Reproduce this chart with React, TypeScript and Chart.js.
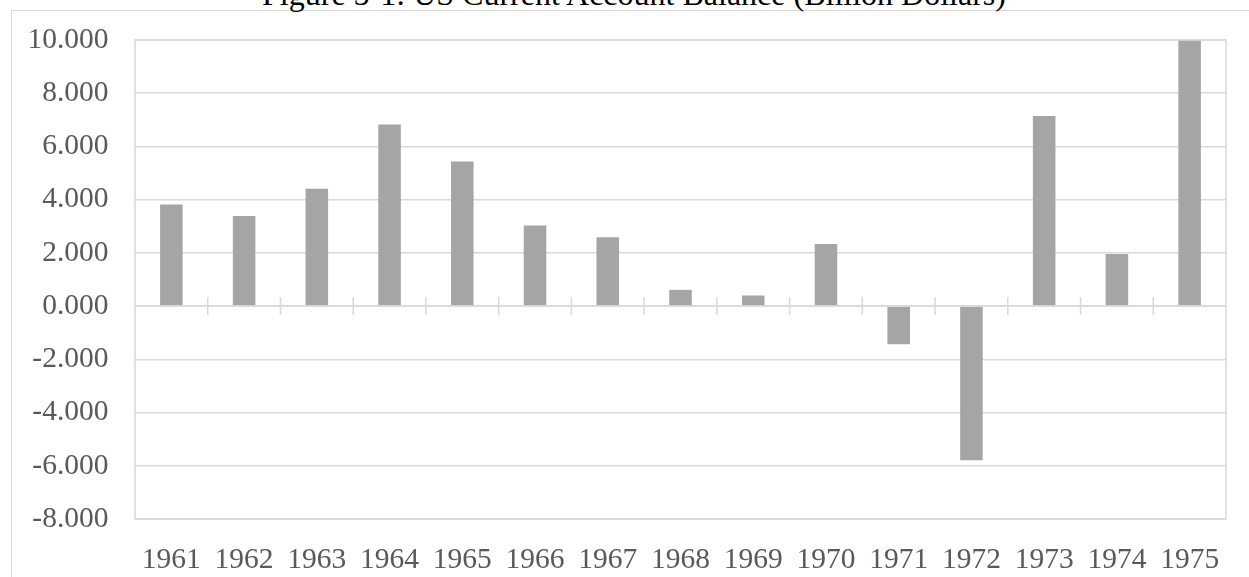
import React, { useEffect, useRef } from "react";
import { Chart, registerables } from "chart.js";

Chart.register(...registerables);

// US current account balance, billion dollars
const years = [
  "1961", "1962", "1963", "1964", "1965", "1966", "1967", "1968",
  "1969", "1970", "1971", "1972", "1973", "1974", "1975",
];
const balance = [
  3.82, 3.387, 4.414, 6.823, 5.431, 3.031, 2.583, 0.611,
  0.399, 2.331, -1.433, -5.795, 7.14, 1.962, 18.116,
];
const yMin = -8;
const yMax = 10;
const yStep = 2;
const titleText = "Figure 5-1: US Current Account Balance (Billion Dollars)";

const SERIF = "'Liberation Serif', 'Times New Roman', serif";
const GRID = "#d9d9d9";
const LABEL = "#595959";
const BAR = "#a5a5a5";

// Plot-area frame plus cross tick marks on the zero axis between categories
const plotFrame = {
  id: "plotFrame",
  afterDatasetsDraw(chart: any) {
    const { ctx, chartArea: a, scales } = chart;
    const x = scales.x;
    const y = scales.y;
    ctx.save();
    ctx.strokeStyle = GRID;
    ctx.lineWidth = 1.5;
    ctx.strokeRect(a.left, a.top, a.right - a.left, a.bottom - a.top);
    const y0 = y.getPixelForValue(0);
    ctx.beginPath();
    ctx.moveTo(a.left, y0);
    ctx.lineTo(a.right, y0);
    for (let i = 1; i < years.length; i++) {
      const bx = (x.getPixelForValue(i - 1) + x.getPixelForValue(i)) / 2;
      ctx.moveTo(bx, y0 - 9);
      ctx.lineTo(bx, y0 + 9);
    }
    ctx.stroke();
    ctx.restore();
  },
};

export default function App() {
  const canvasRef = useRef<HTMLCanvasElement | null>(null);

  useEffect(() => {
    const canvas = canvasRef.current;
    if (!canvas) return;
    const chart = new Chart(canvas, {
      type: "bar",
      data: {
        labels: years,
        datasets: [
          {
            data: balance,
            backgroundColor: BAR,
            borderWidth: 0,
            barPercentage: 0.31,
            categoryPercentage: 1,
          },
        ],
      },
      options: {
        responsive: false,
        animation: false,
        devicePixelRatio: 1,
        layout: { padding: { left: 0, right: 30, top: 40, bottom: 0 } },
        plugins: {
          legend: { display: false },
          tooltip: { enabled: false },
          title: { display: false },
        },
        scales: {
          x: {
            grid: { display: false },
            border: { display: false },
            ticks: {
              color: LABEL,
              font: { family: SERIF, size: 29.5, lineHeight: 1.2 },
              padding: 16,
              maxRotation: 0,
              autoSkip: false,
            },
            afterFit: (s: any) => {
              s.height = 58;
            },
          },
          y: {
            min: yMin,
            max: yMax,
            grid: { color: GRID, lineWidth: 1.5, drawTicks: false },
            border: { display: false },
            ticks: {
              stepSize: yStep,
              color: LABEL,
              font: { family: SERIF, size: 29.5, lineHeight: 0.8 },
              padding: 26.5,
              callback: (v: any) => Number(v).toFixed(3),
            },
            afterFit: (s: any) => {
              s.width = 123;
            },
          },
        },
      },
      plugins: [plotFrame],
    });
    return () => chart.destroy();
  }, []);

  return (
    <div
      style={{
        position: "fixed",
        inset: 0,
        overflow: "hidden",
        background: "#ffffff",
      }}
    >
      <div
        style={{
          position: "absolute",
          left: 11,
          top: 10,
          width: 1244,
          height: 700,
          border: "1.5px solid #d9d9d9",
          boxSizing: "border-box",
        }}
      />
      <div
        style={{
          position: "absolute",
          left: 12,
          top: -22,
          width: 1244,
          textAlign: "center",
          fontFamily: SERIF,
          fontSize: 32,
          lineHeight: "32px",
          color: "#000000",
          whiteSpace: "nowrap",
        }}
      >
        {titleText}
      </div>
      <canvas
        ref={canvasRef}
        width={1244}
        height={577}
        style={{ position: "absolute", left: 12, top: 0, width: 1244, height: 577 }}
      />
    </div>
  );
}
